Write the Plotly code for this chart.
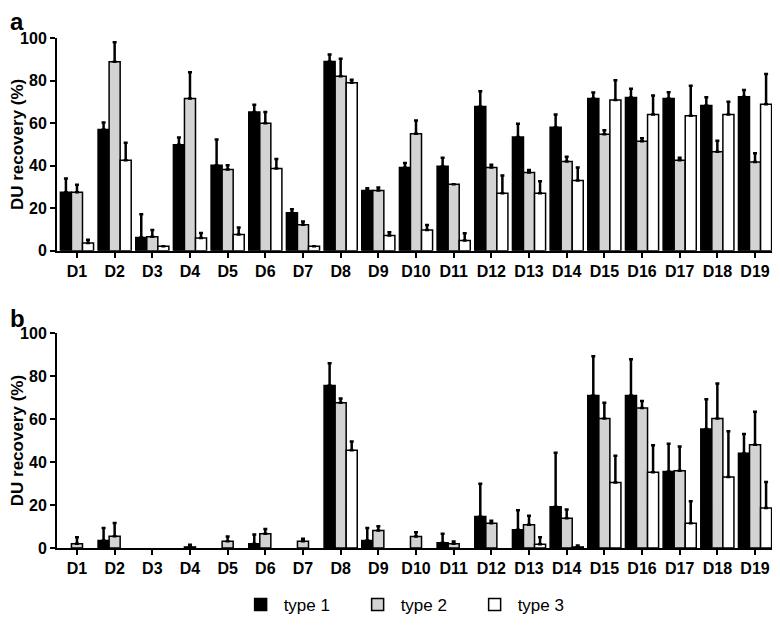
import plotly.graph_objects as go

cats = ["D%d" % i for i in range(1, 20)]

# panel a - DU recovery (%) means and upper error
a_t1 = [27.5, 57, 6.3, 49.8, 40.2, 65.2, 17.9, 89, 28.4, 39.1, 39.7, 67.8, 53.5, 58.1, 71.6, 72.1, 71.6, 68.3, 72.4]
a_t1_err = [6.5, 3.3, 10.9, 3.4, 12.1, 3.4, 1.6, 3.3, 1.0, 2.2, 4.0, 7.2, 6.2, 6.0, 2.8, 4.1, 2.9, 3.9, 3.2]
a_t2 = [27.5, 88.8, 6.6, 71.6, 38.2, 60, 12.3, 82, 28.4, 55, 31.3, 39.1, 36.8, 42, 54.8, 51.5, 42.5, 46.6, 41.7]
a_t2_err = [3.5, 9.2, 3.2, 12.3, 2.0, 5.2, 1.5, 8.3, 1.4, 6.2, 0, 1.4, 1.2, 2.2, 1.9, 1.4, 1.2, 5.1, 4.2]
a_t3 = [3.7, 42.5, 2.1, 6, 7.7, 38.7, 2.1, 79, 7.2, 9.8, 4.9, 27.1, 27.1, 33.1, 70.9, 64, 63.5, 64, 68.9]
a_t3_err = [1.5, 8.3, 0, 2.4, 3.3, 4.4, 0, 1.4, 1.5, 2.3, 3.4, 8.3, 5.6, 6.0, 9.3, 9.0, 14.1, 6.1, 14.2]

# panel b
b_t1 = [0, 3.5, 0, 0, 0, 2, 0, 75.7, 3.5, 0, 2.4, 14.7, 8.5, 19.2, 71, 71, 35.6, 55.4, 44.1]
b_t1_err = [0, 5.8, 0, 0, 0, 4.3, 0, 10.3, 5.8, 0, 4.2, 15.2, 9.1, 25.1, 18.3, 16.9, 12.9, 13.8, 9.0]
b_t2 = [2, 5.5, 0, 0.5, 3.2, 6.6, 3.2, 67.6, 8.1, 5.3, 2, 11.5, 10.8, 13.9, 60.3, 65.2, 36, 60.3, 48.1]
b_t2_err = [3, 6.1, 0, 1.0, 2.1, 2.3, 1.1, 2.0, 2.0, 2.0, 1.0, 1.2, 4.2, 4.0, 7.3, 3.2, 11.3, 16.3, 15.3]
b_t3 = [0, 0, 0, 0, 0, 0, 0, 45.5, 0, 0, 0, 0, 1.7, 0.5, 30.5, 35.3, 11.5, 33, 18.6]
b_t3_err = [0, 0, 0, 0, 0, 0, 0, 4.1, 0, 0, 0, 0, 3.3, 0.7, 12.5, 12.5, 10.3, 21.4, 12.1]

names = ["type 1", "type 2", "type 3"]
fills = ["#000000", "#d3d3d3", "#ffffff"]
panels = [
    ("y", [a_t1, a_t2, a_t3], [a_t1_err, a_t2_err, a_t3_err], True),
    ("y2", [b_t1, b_t2, b_t3], [b_t1_err, b_t2_err, b_t3_err], False),
]

fig = go.Figure()
for yax, vals, errs, show in panels:
    xax = "x" if yax == "y" else "x2"
    for i in range(3):
        # empty (0) bars: skip them so no outline / error cap sits on the axis
        yv = [v if v > 0 else None for v in vals[i]]
        err = [e if e > 0 else 0 for e in errs[i]]
        fig.add_trace(go.Bar(
            x=cats, y=yv, name=names[i],
            xaxis=xax, yaxis=yax,
            marker=dict(color=fills[i], line=dict(color="black", width=1.5)),
            error_y=dict(type="data", symmetric=False, array=err,
                         arrayminus=[0] * len(cats), color="black",
                         thickness=2.5, width=2),
            showlegend=show, legendgroup=names[i],
        ))

# page body has an 8px margin, so the figure is 8px smaller than the window
FONT = "Liberation Sans, Arial"
bold = dict(family=FONT, size=16, color="black", weight="bold")
xcommon = dict(showline=True, linecolor="black", linewidth=2, ticks="outside",
               ticklen=5, tickwidth=2, tickcolor="black", tickfont=bold,
               range=[-0.53, 18.53], showgrid=False, zeroline=False)
ycommon = dict(showline=True, linecolor="black", linewidth=2, ticks="outside",
               ticklen=5, tickwidth=2, tickcolor="black", tickfont=bold,
               range=[0, 100], tickvals=[0, 20, 40, 60, 80, 100], showgrid=False,
               zeroline=False, automargin=False,
               title=dict(text="DU recovery (%)", font=dict(bold, size=17), standoff=0))

panel_lbl = dict(family=FONT, size=24, color="black", weight="bold")

fig.update_layout(
    width=772, height=620,
    margin=dict(l=49, r=5, t=30, b=70),
    paper_bgcolor="white", plot_bgcolor="white",
    barmode="group", bargap=0.12, bargroupgap=0,
    xaxis=dict(xcommon, anchor="y"),
    yaxis=dict(ycommon, domain=[0.5827, 1], anchor="x"),
    xaxis2=dict(xcommon, anchor="y2"),
    yaxis2=dict(ycommon, domain=[0, 0.4212], anchor="x2"),
    legend=dict(orientation="h", x=0.496, xanchor="center", y=-0.1115, yanchor="middle",
                font=dict(family=FONT, size=17, color="black"),
                entrywidth=66, entrywidthmode="pixels", itemwidth=36),
    annotations=[
        dict(text="a", xref="paper", yref="paper", x=-0.068, y=1.0327, showarrow=False,
             font=panel_lbl, xanchor="left", yanchor="middle"),
        dict(text="b", xref="paper", yref="paper", x=-0.068, y=0.45, showarrow=False,
             font=panel_lbl, xanchor="left", yanchor="middle"),
    ],
)

fig.write_html("out.html")
